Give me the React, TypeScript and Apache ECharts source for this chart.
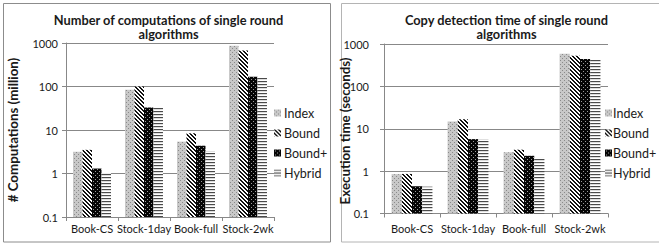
import React, { useEffect, useRef } from 'react';
import * as echarts from 'echarts';

const categories = ['Book-CS', 'Stock-1day', 'Book-full', 'Stock-2wk'];
const seriesNames = ['Index', 'Bound', 'Bound+', 'Hybrid'];
const yTickLabels = ['0.1', '1', '10', '100', '1000'];

// Left chart: number of computations (million)
const compIndex = [3.16, 84, 5.4, 860];
const compBound = [3.5, 100, 8.4, 670];
const compBoundPlus = [1.3, 33, 4.35, 168];
const compHybrid = [1.02, 34, 3.27, 163];

// Right chart: execution time (seconds)
const timeIndex = [0.85, 14.8, 2.8, 590];
const timeBound = [0.86, 16.7, 3.2, 525];
const timeBoundPlus = [0.44, 5.7, 2.3, 440];
const timeHybrid = [0.43, 5.7, 2.05, 435];

const leftTitle = 'Number of computations of single round\nalgorithms';
const rightTitle = 'Copy detection time of single round\nalgorithms';
const leftYName = '# Computations (million)';
const rightYName = 'Execution time (seconds)';

const AXIS_MIN = 0.1;
const AXIS_MAX = 1000;
const CATEGORY_GAP = 0.27;

const FONT = 'Lato, "Open Sans", sans-serif';
const TEXT = '#1a1a1a';
const LINE = '#888888';

function makeTile(w: number, h: number, bg: string, fn: (x: number, y: number) => string | null) {
  const c = document.createElement('canvas');
  c.width = w;
  c.height = h;
  const ctx = c.getContext('2d')!;
  ctx.fillStyle = bg;
  ctx.fillRect(0, 0, w, h);
  for (let y = 0; y < h; y++) {
    for (let x = 0; x < w; x++) {
      const col = fn(x, y);
      if (col) {
        ctx.fillStyle = col;
        ctx.fillRect(x, y, 1, 1);
      }
    }
  }
  return { image: c, repeat: 'repeat', imageWidth: w, imageHeight: h } as any;
}

export default function App() {
  const ref = useRef<HTMLDivElement>(null);
  useEffect(() => {
    if (!ref.current) return;
    const chart = echarts.init(ref.current, undefined, { renderer: 'svg' });

    const patterns = [
      makeTile(4, 4, '#c8c8c8', (x, y) => ((x === 0 && y === 0) || (x === 2 && y === 2) ? '#8a8a8a' : null)),
      makeTile(4, 4, '#ffffff', (x, y) => (((x - y + 8) % 4) < 2 ? '#111111' : null)),
      makeTile(4, 4, '#050505', (x, y) => ((x === 1 && y === 1) || (x === 3 && y === 3) ? '#9a9a9a' : null)),
      makeTile(2, 3, '#ffffff', (x, y) => (y === 0 ? '#4a4a4a' : y === 1 ? '#dcdcdc' : null)),
    ];

    const leftData = [compIndex, compBound, compBoundPlus, compHybrid];
    const rightData = [timeIndex, timeBound, timeBoundPlus, timeHybrid];

    const makeX = (gridIndex: number, margin: number) => ({
      type: 'category',
      gridIndex,
      data: categories,
      axisLine: { lineStyle: { color: LINE, width: 1 } },
      axisTick: { show: true, length: 4, lineStyle: { color: LINE } },
      axisLabel: { color: TEXT, fontFamily: FONT, fontSize: 11, margin, interval: 0 },
    });
    const makeY = (gridIndex: number, margin: number) => ({
      type: 'log',
      logBase: 10,
      gridIndex,
      min: AXIS_MIN,
      max: AXIS_MAX,
      axisLine: { show: true, lineStyle: { color: LINE, width: 1 } },
      axisTick: { show: true, length: 4, lineStyle: { color: LINE } },
      splitLine: { show: true, lineStyle: { color: LINE, width: 1 } },
      axisLabel: {
        color: TEXT,
        fontFamily: FONT,
        fontSize: 11,
        margin,
        formatter: (v: number) => {
          const idx = Math.round(Math.log10(v)) + 1;
          return yTickLabels[idx] ?? '';
        },
      },
    });

    const series: any[] = [];
    [leftData, rightData].forEach((group, gi) => {
      group.forEach((vals, si) => {
        const fill = patterns[si];
        series.push({
          type: 'custom',
          name: seriesNames[si],
          xAxisIndex: gi,
          yAxisIndex: gi,
          data: vals.map((v, ci) => [ci, v]),
          encode: { x: 0, y: 1 },
          itemStyle: { color: fill },
          renderItem: (params: any, api: any) => {
            const ci = api.value(0);
            const v = api.value(1);
            const top = api.coord([ci, v]);
            const base = api.coord([ci, AXIS_MIN]);
            const band = api.coord([1, v])[0] - api.coord([0, v])[0];
            const barW = (band * (1 - CATEGORY_GAP)) / seriesNames.length;
            const x0 = top[0] - (barW * seriesNames.length) / 2 + si * barW;
            return {
              type: 'rect',
              shape: { x: x0, y: top[1], width: barW, height: base[1] - top[1] },
              style: { fill },
            };
          },
        });
      });
    });

    const legendBase = {
      orient: 'vertical',
      data: seriesNames,
      itemWidth: 7,
      itemHeight: 7,
      itemGap: 6,
      padding: 0,
      icon: 'rect',
      selectedMode: false,
      textStyle: { color: TEXT, fontFamily: FONT, fontSize: 12.5, lineHeight: 14 },
    };

    chart.setOption({
      animation: false,
      backgroundColor: '#ffffff',
      grid: [
        { left: 66, top: 43, width: 208, height: 174 },
        { left: 384, top: 44, width: 224, height: 169.5 },
      ],
      xAxis: [makeX(0, 6), makeX(1, 9)],
      yAxis: [makeY(0, 8), makeY(1, 15)],
      legend: [
        { ...legendBase, left: 274, top: 106, textStyle: { ...legendBase.textStyle, padding: [0, 0, 0, -2] } },
        { ...legendBase, left: 605, top: 106, textStyle: { ...legendBase.textStyle, padding: [0, 0, 0, -4] } },
      ],
      graphic: [
        { type: 'rect', shape: { x: 3.5, y: 3.5, width: 327, height: 238.5 }, style: { fill: 'none', stroke: '#8c8c8c', lineWidth: 1 } },
        { type: 'rect', shape: { x: 341.5, y: 3.5, width: 330, height: 238.5 }, style: { fill: 'none', stroke: '#b4b4b4', lineWidth: 1 } },
        { type: 'text', x: 168.5, y: 27, style: { text: leftTitle, align: 'center', verticalAlign: 'middle', font: `bold 12.8px ${FONT}`, lineHeight: 14.5, fill: TEXT } },
        { type: 'text', x: 506.5, y: 27, style: { text: rightTitle, align: 'center', verticalAlign: 'middle', font: `bold 12.8px ${FONT}`, lineHeight: 14.5, fill: TEXT } },
        { type: 'text', x: 13, y: 130, rotation: Math.PI / 2, style: { text: leftYName, align: 'center', verticalAlign: 'middle', font: `bold 13.3px ${FONT}`, fill: TEXT } },
        { type: 'text', x: 345, y: 131, rotation: Math.PI / 2, style: { text: rightYName, align: 'center', verticalAlign: 'middle', font: `bold 13.3px ${FONT}`, fill: TEXT } },
      ],
      series,
    } as any);
    return () => chart.dispose();
  }, []);
  return (
    <div
      ref={ref}
      style={{ position: 'absolute', left: 0, top: 0, width: 659, height: 245 }}
    />
  );
}
